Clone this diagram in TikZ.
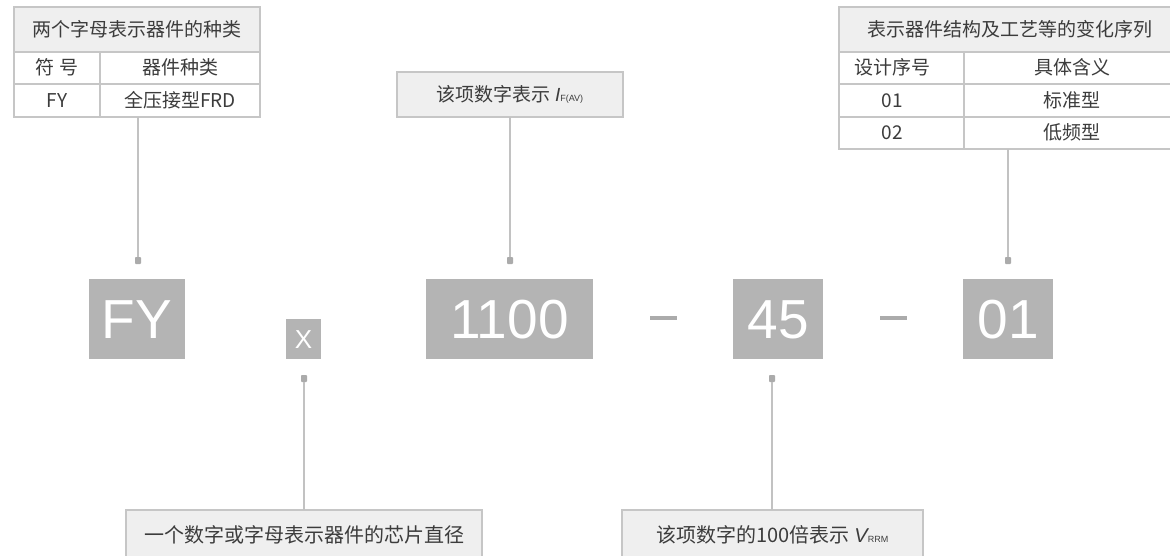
\documentclass[tikz,border=0pt]{standalone}
\usepackage{fontspec}
\setmainfont{Noto Sans CJK SC}
\newfontfamily\latf{Liberation Sans}
\newfontfamily\bigf{Liberation Sans}
\definecolor{txt}{HTML}{3C3C3C}
\definecolor{linec}{HTML}{C6C6C6}
\definecolor{hdr}{HTML}{EFEFEF}
\definecolor{boxg}{HTML}{B4B4B4}
\definecolor{conng}{HTML}{C2C2C2}
\definecolor{endg}{HTML}{ABABAB}
\tikzset{
  cellbase/.style={draw=linec, line width=1.2pt, anchor=north west, inner sep=0pt, outer sep=0pt,
    text=txt, text height=15.2pt, text depth=1.9pt},
  hcell/.style={cellbase, fill=hdr, font=\fontsize{19}{19}\selectfont},
  bcell/.style={cellbase, fill=white, font=\fontsize{19}{19}\selectfont},
  ftxt/.style={text=txt, inner sep=0pt, text height=15.2pt, text depth=1.9pt, font=\fontsize{19}{19}\selectfont},
  lbox/.style={cellbase, fill=hdr, font=\fontsize{20}{20}\selectfont, text height=16pt, text depth=2pt},
  bigbox/.style={fill=boxg, anchor=north west, inner sep=0pt, outer sep=0pt, text=white,
    text height=39.4pt, text depth=0pt, font=\bigf\fontsize{55}{55}\selectfont},
  smallbig/.style={bigbox, text height=18.6pt, font=\bigf\fontsize{26}{26}\selectfont},
  endsq/.style={fill=endg, minimum width=6pt, minimum height=7pt, inner sep=0pt, outer sep=0pt, rounded corners=0.8pt},
  conn/.style={draw=conng, line width=2pt},
  dashbar/.style={fill=endg, minimum width=27pt, minimum height=3.2pt, inner sep=0pt}
}
\newcommand{\subs}[1]{{\latf\fontsize{9}{9}\selectfont #1}}
\begin{document}
\begin{tikzpicture}[x=1pt,y=-1pt]
\useasboundingbox (0,0) rectangle (1170,555);
\fill[white] (0,0) rectangle (1170,555);

% top-left table
\node[hcell, minimum width=246, minimum height=45] (lh) at (14,7) {两个字母表示器件的种类};
\node[bcell, minimum width=86, minimum height=32] (lc11) at (14,52) {符 号};
\node[bcell, minimum width=160, minimum height=32] (lc12) at (100,52) {器件种类};
\node[bcell, minimum width=86, minimum height=33] (lc21) at (14,84) {FY};
\node[bcell, minimum width=160, minimum height=33] (lc22) at (100,84) {全压接型FRD};

% top-middle box
\node[lbox, font=\fontsize{19}{19}\selectfont, text height=15.2pt, text depth=1.9pt, minimum width=226, minimum height=45] (tm) at (397,72) {该项数字表示 {\latf\itshape I}\subs{F(AV)}};

% top-right table
\node[hcell, minimum width=341, minimum height=45] (rh) at (839,7) {表示器件结构及工艺等的变化序列};
\node[bcell, minimum width=125, minimum height=32] (rc11) at (839,52) {};
\node[bcell, minimum width=216, minimum height=32] (rc12) at (964,52) {具体含义};
\node[bcell, minimum width=125, minimum height=33] (rc21) at (839,84) {};
\node[bcell, minimum width=216, minimum height=33] (rc22) at (964,84) {标准型};
\node[bcell, minimum width=125, minimum height=32] (rc31) at (839,117) {};
\node[bcell, minimum width=216, minimum height=32] (rc32) at (964,117) {低频型};
\node[ftxt] (t11) at ([xshift=-9pt]rc11.center) {设计序号};
\node[ftxt] (t21) at ([xshift=-9pt]rc21.center) {01};
\node[ftxt] (t31) at ([xshift=-9pt]rc31.center) {02};

% code boxes
\node[bigbox, minimum width=96, minimum height=80] (fy) at (89,279) {FY};
\node[smallbig, minimum width=35, minimum height=40] (xb) at (286,319) {X};
\node[bigbox, minimum width=167, minimum height=80] (b1100) at (426,279) {1100};
\node[dashbar] (d1) at (663.5,318) {};
\node[bigbox, minimum width=90, minimum height=80] (b45) at (733,279) {45};
\node[dashbar] (d2) at (893,318) {};
\node[bigbox, minimum width=90, minimum height=80] (b01) at (963,279) {01};

% bottom boxes
\node[lbox, minimum width=356, minimum height=50] (bl) at (126,510) {一个数字或字母表示器件的芯片直径};
\node[lbox, minimum width=301, minimum height=50] (br) at (622,510) {该项数字的100倍表示 {\latf\itshape V}\subs{RRM}};

% connector ends
\node[endsq] (e1) at (138,260.5) {};
\node[endsq] (e2) at (510,260.5) {};
\node[endsq] (e3) at (1008,260.5) {};
\node[endsq] (e4) at (304,378.5) {};
\node[endsq] (e5) at (772,378.5) {};

% connectors
\draw[conn] (e1 |- lc22.south) -- (e1.north);
\draw[conn] (e2 |- tm.south) -- (e2.north);
\draw[conn] (e3 |- rc32.south) -- (e3.north);
\draw[conn] (e4.south) -- (e4 |- bl.north);
\draw[conn] (e5.south) -- (e5 |- br.north);
\end{tikzpicture}
\end{document}
